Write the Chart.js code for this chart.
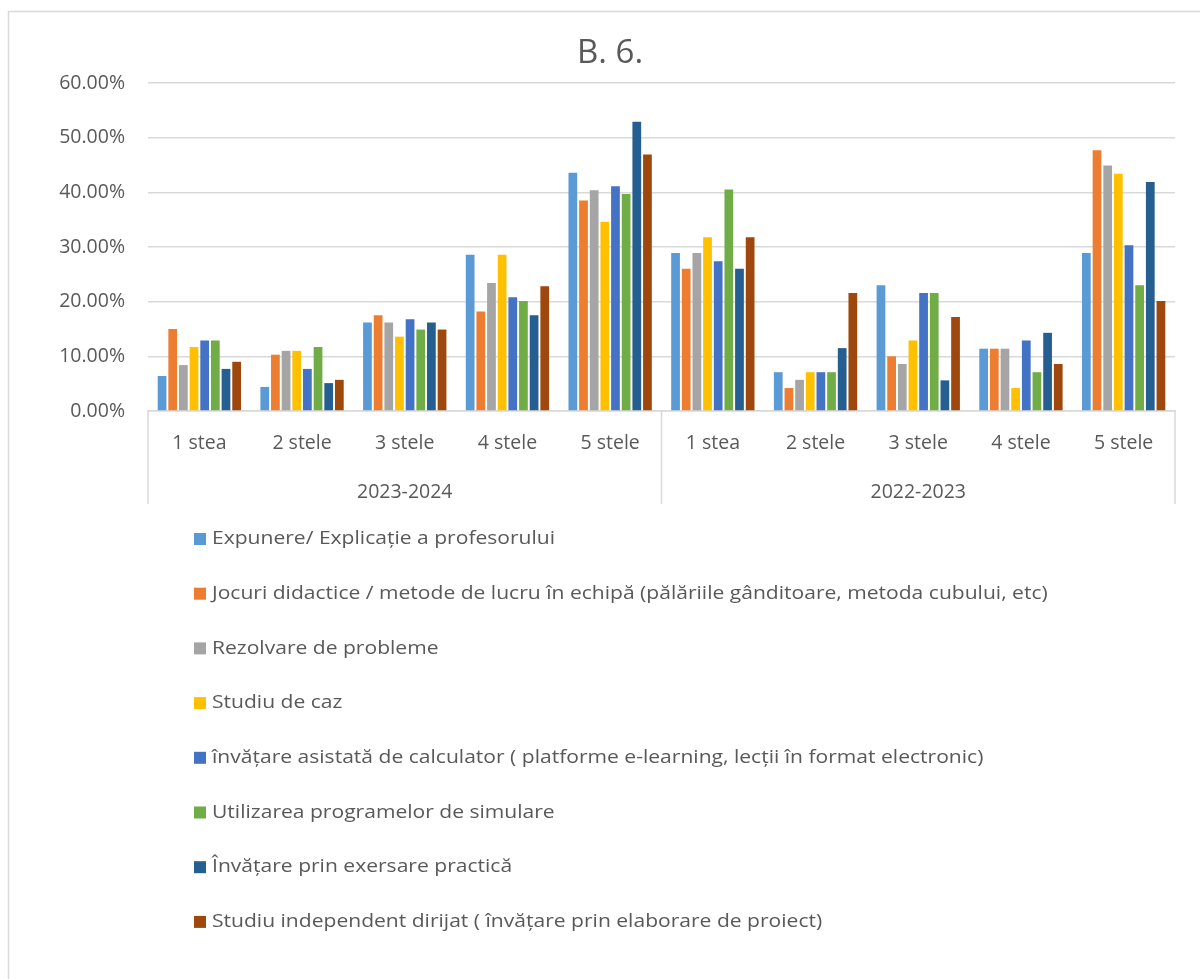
<!DOCTYPE html>
<html>
<head>
<meta charset="utf-8">
<script src="https://cdn.jsdelivr.net/npm/chart.js@4"></script>
<style>
  body { margin: 0; background: #fff; }
  #wrap { width: 1200px; height: 979px; }
</style>
</head>
<body>
<div id="wrap"><canvas id="barChart" width="1200" height="979"></canvas></div>
<script>
// categorii si serii
const categories = ["1 stea", "2 stele", "3 stele", "4 stele", "5 stele",
                    "1 stea", "2 stele", "3 stele", "4 stele", "5 stele"];
const groupLabels = ["2023-2024", "2022-2023"];
const yTicks = [0, 10, 20, 30, 40, 50, 60];

const seriesNames = [
    "Expunere/ Explicație a profesorului",
    "Jocuri didactice / metode de lucru în echipă (pălăriile gânditoare, metoda cubului, etc)",
    "Rezolvare de probleme",
    "Studiu de caz",
    "învățare asistată de calculator ( platforme e-learning, lecții în format electronic)",
    "Utilizarea programelor de simulare",
    "Învățare prin exersare practică",
    "Studiu independent dirijat ( învățare prin elaborare de proiect)"
];

const expunere   = [6.4, 4.4, 16.2, 28.6, 43.6, 28.9, 7.1, 23.0, 11.4, 28.9];
const jocuri     = [15.0, 10.3, 17.5, 18.2, 38.5, 26.0, 4.2, 10.0, 11.4, 47.7];
const rezolvare  = [8.4, 11.0, 16.2, 23.4, 40.4, 28.9, 5.7, 8.6, 11.4, 44.9];
const studiuCaz  = [11.7, 11.0, 13.6, 28.6, 34.6, 31.8, 7.1, 12.9, 4.2, 43.4];
const calculator = [12.9, 7.7, 16.8, 20.8, 41.1, 27.4, 7.1, 21.6, 12.9, 30.3];
const simulare   = [12.9, 11.7, 14.9, 20.1, 39.7, 40.5, 7.1, 21.6, 7.1, 23.0];
const practica   = [7.7, 5.1, 16.2, 17.5, 52.9, 26.0, 11.5, 5.6, 14.3, 41.9];
const proiect    = [9.0, 5.7, 14.9, 22.8, 46.9, 31.8, 21.6, 17.2, 8.6, 20.1];

const seriesValues = [expunere, jocuri, rezolvare, studiuCaz, calculator, simulare, practica, proiect];
const seriesColors = ["#5B9BD5", "#ED7D31", "#A5A5A5", "#FFC000", "#4472C4", "#70AD47", "#255E91", "#9E480E"];

const FONT = "'Open Sans', sans-serif";
const TEXT_COLOR = "#595959";
const LINE_COLOR = "#d9d9d9";

// chenar exterior, separatoare de grup si legenda
const decorPlugin = {
    id: "decor",
    beforeDraw(chart) {
        const ctx = chart.ctx;
        ctx.save();
        ctx.strokeStyle = LINE_COLOR;
        ctx.lineWidth = 1.5;
        ctx.strokeRect(8.5, 11.5, 1300, 1100);
        ctx.restore();
    },
    afterDraw(chart) {
        const ctx = chart.ctx;
        const area = chart.chartArea;
        const x = chart.scales.x;
        const mid = (x.getPixelForValue(4) + x.getPixelForValue(5)) / 2;
        ctx.save();
        ctx.strokeStyle = LINE_COLOR;
        ctx.lineWidth = 1.5;
        [area.left, mid, area.right].forEach(px => {
            ctx.beginPath();
            ctx.moveTo(px, area.bottom);
            ctx.lineTo(px, area.bottom + 93);
            ctx.stroke();
        });

        // legenda verticala
        ctx.font = "18px " + FONT;
        ctx.textBaseline = "middle";
        ctx.textAlign = "left";
        chart.data.datasets.forEach((ds, i) => {
            const cy = 539 + i * 54.7;
            ctx.fillStyle = ds.backgroundColor;
            ctx.fillRect(194, cy - 6, 12, 12);
            ctx.fillStyle = TEXT_COLOR;
            ctx.save();
            ctx.translate(212, cy);
            ctx.scale(1.17, 1);
            ctx.fillText(ds.label, 0, 0);
            ctx.restore();
        });
        ctx.restore();
    }
};

document.addEventListener("DOMContentLoaded", function () {
    const ctx = document.getElementById("barChart").getContext("2d");
    new Chart(ctx, {
        type: "bar",
        data: {
            labels: categories,
            datasets: seriesNames.map((name, i) => ({
                label: name,
                data: seriesValues[i],
                backgroundColor: seriesColors[i],
                borderWidth: 0,
                categoryPercentage: 0.83,
                barPercentage: 0.82
            }))
        },
        options: {
            responsive: false,
            animation: false,
            layout: { padding: { left: 45, right: 25, top: 0, bottom: 468 } },
            plugins: {
                legend: { display: false },
                tooltip: { enabled: false },
                title: {
                    display: true,
                    text: "B. 6.",
                    color: TEXT_COLOR,
                    font: { family: FONT, size: 33, weight: "normal" },
                    padding: { top: 34, bottom: 9.4 }
                }
            },
            scales: {
                x: {
                    position: "bottom",
                    grid: { display: false },
                    border: { display: true, color: LINE_COLOR, width: 1.5 },
                    ticks: { color: TEXT_COLOR, font: { family: FONT, size: 19.5 }, padding: 13, maxRotation: 0, autoSkip: false },
                    afterFit: (scale) => { scale.height = 56; }
                },
                x2: {
                    type: "category",
                    position: "bottom",
                    labels: groupLabels,
                    grid: { display: false },
                    border: { display: false },
                    ticks: { color: TEXT_COLOR, font: { family: FONT, size: 19.5 }, padding: 6, maxRotation: 0 },
                    afterFit: (scale) => { scale.height = 44; }
                },
                y: {
                    min: 0,
                    max: 60,
                    afterBuildTicks: (scale) => { scale.ticks = yTicks.map(v => ({ value: v })); },
                    grid: { color: LINE_COLOR, lineWidth: 1.5, drawTicks: false },
                    border: { display: false },
                    ticks: {
                        color: TEXT_COLOR,
                        font: { family: FONT, size: 19.5 },
                        padding: 23,
                        callback: (v) => Number(v).toFixed(2) + "%"
                    },
                    afterFit: (scale) => { scale.width = 103; }
                }
            }
        },
        plugins: [decorPlugin]
    });
});
</script>
</body>
</html>
